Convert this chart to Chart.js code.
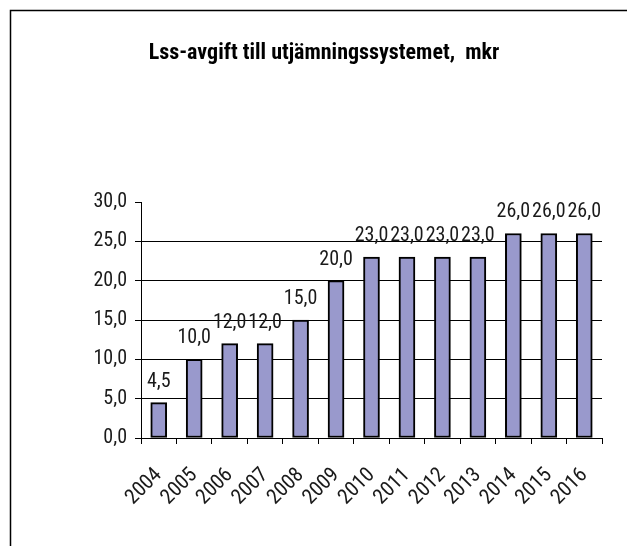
<!DOCTYPE html>
<html>
<head>
<meta charset="utf-8">
<script src="https://cdn.jsdelivr.net/npm/chart.js@4"></script>
<style>
  html, body { margin: 0; padding: 0; background: #fff; }
  #wrap { width: 627px; height: 546px; }
</style>
</head>
<body>
<div id="wrap"><canvas id="lssChart" width="627" height="546"></canvas></div>
<script>
const years = ["2004", "2005", "2006", "2007", "2008", "2009", "2010", "2011", "2012", "2013", "2014", "2015", "2016"];
const avgift = [4.5, 10.0, 12.0, 12.0, 15.0, 20.0, 23.0, 23.0, 23.0, 23.0, 26.0, 26.0, 26.0];
const yTicks = [0, 5, 10, 15, 20, 25, 30];

const narrow = "'Roboto Condensed', 'Liberation Sans Narrow', 'Arial Narrow', sans-serif";
const fmt = v => v.toFixed(1).replace(".", ",");

// frame lines round the chart (top and left edge, like the original)
const framePlugin = {
    id: "frame",
    beforeDraw(chart) {
        const ctx = chart.ctx;
        ctx.save();
        ctx.strokeStyle = "#000";
        ctx.lineWidth = 1.5;
        ctx.beginPath();
        ctx.moveTo(10.5, 546);
        ctx.lineTo(10.5, 10.5);
        ctx.lineTo(627, 10.5);
        ctx.stroke();
        ctx.restore();
    }
};

// value labels above each bar
const valueLabels = {
    id: "valueLabels",
    afterDatasetsDraw(chart) {
        const ctx = chart.ctx;
        const meta = chart.getDatasetMeta(0);
        ctx.save();
        ctx.font = "20px " + narrow;
        ctx.fillStyle = "#1a1a1a";
        ctx.textAlign = "center";
        ctx.textBaseline = "alphabetic";
        meta.data.forEach((bar, i) => {
            ctx.fillText(fmt(avgift[i]), bar.x, bar.y - 16);
        });
        ctx.restore();
    }
};

const ctx = document.getElementById("lssChart").getContext("2d");

new Chart(ctx, {
    type: "bar",
    data: {
        labels: years,
        datasets: [{
            data: avgift,
            backgroundColor: "#9999cc",
            borderColor: "#000",
            borderWidth: 2,
            borderSkipped: false,
            barThickness: 16
        }]
    },
    options: {
        responsive: false,
        animation: false,
        layout: {
            padding: {left: 46, right: 25, top: 0, bottom: 0}
        },
        plugins: {
            legend: {display: false},
            tooltip: {enabled: false},
            title: {
                display: true,
                text: "Lss-avgift till utjämningssystemet,  mkr",
                color: "#000",
                font: {family: narrow, size: 22, weight: "bold", lineHeight: 1.2},
                padding: {top: 40, bottom: 135.6}
            }
        },
        scales: {
            x: {
                offset: true,
                grid: {
                    offset: true,
                    drawOnChartArea: false,
                    tickLength: 6,
                    tickColor: "#000"
                },
                border: {color: "#000", width: 1},
                ticks: {
                    color: "#1a1a1a",
                    font: {family: narrow, size: 21},
                    autoSkip: false,
                    minRotation: 45,
                    maxRotation: 45,
                    padding: 19
                },
                afterFit(scale) {
                    scale.height = 108;
                }
            },
            y: {
                min: 0,
                max: 30,
                afterBuildTicks(scale) {
                    scale.ticks = yTicks.map(v => ({value: v}));
                },
                grid: {
                    color: c => (c.tick && c.tick.value === 30) ? "rgba(0,0,0,0)" : "#000",
                    tickColor: "#000",
                    tickLength: 6,
                    lineWidth: 1
                },
                border: {color: "#000", width: 1},
                ticks: {
                    color: "#1a1a1a",
                    font: {family: narrow, size: 20},
                    padding: 8,
                    callback: v => fmt(v)
                },
                afterFit(scale) {
                    scale.width = 95;
                }
            }
        }
    },
    plugins: [framePlugin, valueLabels]
});
</script>
</body>
</html>
